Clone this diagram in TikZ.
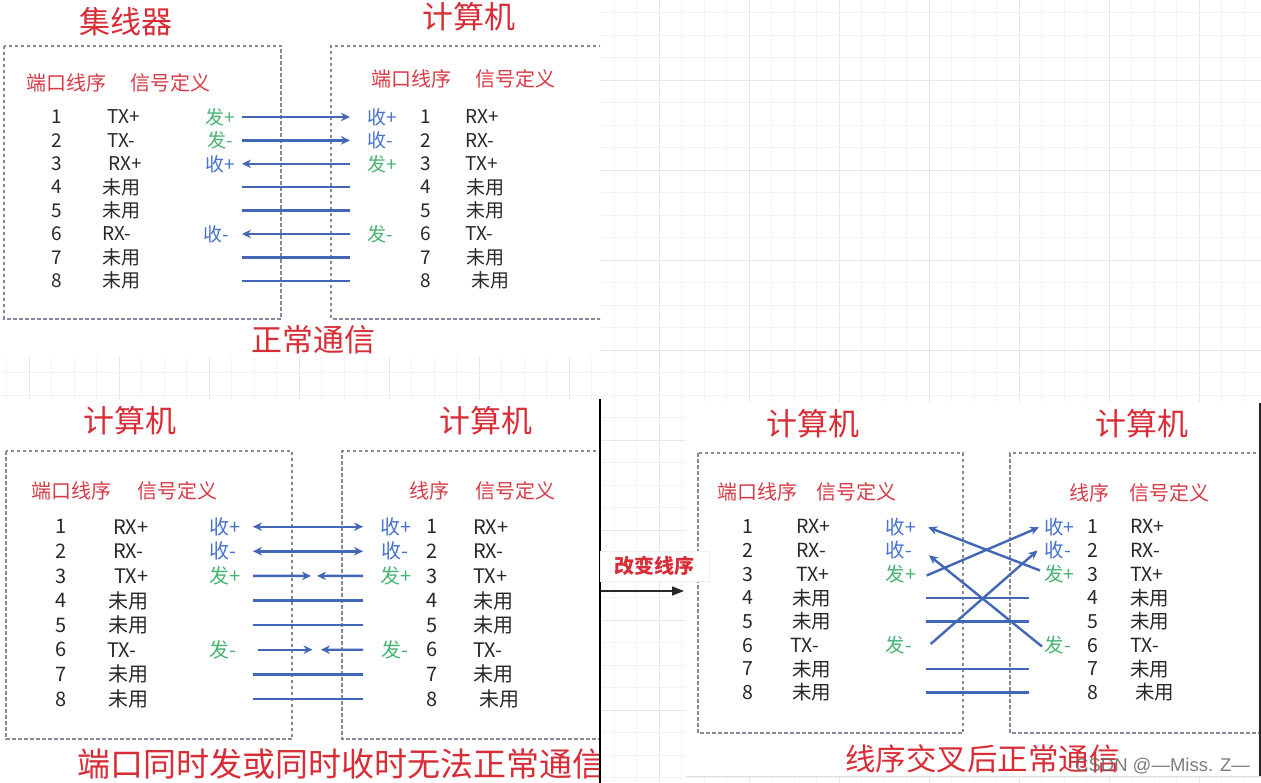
\documentclass[tikz,border=0pt]{standalone}
\usepackage{fontspec}
\setmainfont{Noto Sans CJK SC}
\newfontfamily\wmfont{Liberation Sans}
\usetikzlibrary{arrows.meta}
\definecolor{tred}{RGB}{216,45,55}
\definecolor{hred}{RGB}{214,60,70}
\definecolor{tblue}{RGB}{70,115,205}
\definecolor{tgreen}{RGB}{70,180,115}
\definecolor{tline}{RGB}{66,103,182}
\definecolor{tdash}{RGB}{135,135,160}
\definecolor{tblack}{RGB}{40,40,40}
\definecolor{gminorc}{RGB}{243,243,243}
\definecolor{gmajorc}{RGB}{231,231,231}
\begin{document}
\begin{tikzpicture}[x=1pt,y=-1pt,>={Stealth[length=9pt,width=8.5pt]},
  gminor/.style={draw=gminorc,line width=1pt},
  gmajor/.style={draw=gmajorc,line width=1.2pt},
  box/.style={draw=tdash,line width=1.3pt,dash pattern=on 3.5pt off 2.5pt},
  wire/.style={draw=tline,line width=2.4pt},
  ttl/.style={inner sep=0pt,text=tred,font=\fontsize{31}{31}\selectfont},
  hdr/.style={inner sep=0pt,text=hred,font=\fontsize{20}{20}\selectfont},
  txt/.style={inner sep=0pt,text=tblack,font=\fontsize{#1}{#1}\selectfont},
  sig/.style={txt=#1,anchor=west},
  rcv/.style={inner sep=0pt,text=tblue,font=\fontsize{#1}{#1}\selectfont},
  snd/.style={inner sep=0pt,text=tgreen,font=\fontsize{#1}{#1}\selectfont},
  big/.style={inner sep=0pt,text=tred,font=\fontsize{#1}{#1}\selectfont},
  panel/.style={fill=white,draw=none}
]
\useasboundingbox (0,0) rectangle (1261,783);
\fill[white] (0,0) rectangle (1261,783);
% background grid
\foreach \x in {6.9,29.4,...,1261} \draw[gminor] (\x,0) -- (\x,783);
\foreach \y in {12.7,35.2,...,783} \draw[gminor] (0,\y) -- (1261,\y);
\foreach \x in {29.4,119.4,...,1261} \draw[gmajor] (\x,0) -- (\x,783);
\foreach \y in {80.3,170.3,...,783} \draw[gmajor] (0,\y) -- (1261,\y);

% ================= top-left panel =================
\begin{scope}
\clip (0,0) rectangle (600,357);
\fill[panel] (0,0) rectangle (600,357);
\node[ttl] (tl-t1) at (126,22) {集线器};
\node[ttl] (tl-t2) at (469,17) {计算机};
\draw[box] (4,46) rectangle (281,319);
\draw[box] (602,46) -- (331,46) -- (331,319) -- (602,319);
\node[hdr] (tl-h1) at (66,83) {端口线序};
\node[hdr] (tl-h2) at (170,83) {信号定义};
\node[hdr] (tl-h3) at (411,79) {端口线序};
\node[hdr] (tl-h4) at (515,79) {信号定义};
\foreach \i/\ls/\lx/\rs/\rx in {1/TX+/107/RX+/465,2/TX-/107/RX-/465,3/RX+/108/TX+/465,4/未用/102/未用/466,5/未用/102/未用/466,6/RX-/102/TX-/465,7/未用/102/未用/466,8/未用/102/未用/471}{
  \pgfmathsetmacro\yy{117+23.4*(\i-1)}
  \node[txt=19] (tl-ln\i) at (57,\yy) {\i};
  \node[sig=19] (tl-ls\i) at (\lx,\yy) {\ls};
  \node[txt=19] (tl-rn\i) at (426,\yy) {\i};
  \node[sig=19] (tl-rs\i) at (\rx,\yy) {\rs};
  \coordinate (tl-a\i) at (242,\yy);
  \coordinate (tl-b\i) at (350,\yy);
}
\node[snd=19] (tl-lc1) at (220,117) {发+};
\node[snd=19] (tl-lc2) at (220,140.4) {发-};
\node[rcv=19] (tl-lc3) at (220,163.8) {收+};
\node[rcv=19] (tl-lc6) at (216,234) {收-};
\node[rcv=19] (tl-rc1) at (382,117) {收+};
\node[rcv=19] (tl-rc2) at (380,140.4) {收-};
\node[snd=19] (tl-rc3) at (382,163.8) {发+};
\node[snd=19] (tl-rc6) at (380,234) {发-};
\draw[wire,->] (tl-a1) -- (tl-b1);
\draw[wire,->] (tl-a2) -- (tl-b2);
\draw[wire,<-] (tl-a3) -- (tl-b3);
\draw[wire] (tl-a4) -- (tl-b4);
\draw[wire] (tl-a5) -- (tl-b5);
\draw[wire,<-] (tl-a6) -- (tl-b6);
\draw[wire] (tl-a7) -- (tl-b7);
\draw[wire] (tl-a8) -- (tl-b8);
\node[big=31] (tl-cap) at (313,340) {正常通信};
\end{scope}

% ================= bottom-left panel =================
\begin{scope}
\clip (0,399) rectangle (600,783);
\fill[panel] (0,399) rectangle (600,783);
\node[ttl] (bl-t1) at (130,421) {计算机};
\node[ttl] (bl-t2) at (486,421) {计算机};
\draw[box] (6,451) rectangle (292,739);
\draw[box] (602,451) -- (342,451) -- (342,739) -- (602,739);
\node[hdr] (bl-h1) at (71,491) {端口线序};
\node[hdr] (bl-h2) at (177,491) {信号定义};
\node[hdr] (bl-h3) at (429,491) {线序};
\node[hdr] (bl-h4) at (515,491) {信号定义};
\foreach \i/\ls/\lx/\rs/\rx in {1/RX+/113/RX+/473,2/RX-/113/RX-/473,3/TX+/114/TX+/473,4/未用/108/未用/473,5/未用/108/未用/473,6/TX-/107/TX-/473,7/未用/108/未用/473,8/未用/108/未用/479}{
  \pgfmathsetmacro\yy{526.7+24.6*(\i-1)}
  \node[txt=20] (bl-ln\i) at (61,\yy) {\i};
  \node[sig=20] (bl-ls\i) at (\lx,\yy) {\ls};
  \node[txt=20] (bl-rn\i) at (432,\yy) {\i};
  \node[sig=20] (bl-rs\i) at (\rx,\yy) {\rs};
  \coordinate (bl-a\i) at (253,\yy);
  \coordinate (bl-b\i) at (363,\yy);
}
\coordinate (bl-m3) at (311,575.9);
\coordinate (bl-n3) at (317,575.9);
\coordinate (bl-s6) at (258,649.7);
\coordinate (bl-m6) at (312.5,649.7);
\coordinate (bl-n6) at (321,649.7);
\node[rcv=20] (bl-lc1) at (225,526.7) {收+};
\node[rcv=20] (bl-lc2) at (223,551.3) {收-};
\node[snd=20] (bl-lc3) at (225,575.9) {发+};
\node[snd=20] (bl-lc6) at (223,649.7) {发-};
\node[rcv=20] (bl-rc1) at (396,526.7) {收+};
\node[rcv=20] (bl-rc2) at (395,551.3) {收-};
\node[snd=20] (bl-rc3) at (396,575.9) {发+};
\node[snd=20] (bl-rc6) at (395,649.7) {发-};
\draw[wire,<->] (bl-a1) -- (bl-b1);
\draw[wire,<->] (bl-a2) -- (bl-b2);
\draw[wire,->] (bl-a3) -- (bl-m3);
\draw[wire,->] (bl-b3) -- (bl-n3);
\draw[wire] (bl-a4) -- (bl-b4);
\draw[wire] (bl-a5) -- (bl-b5);
\draw[wire,->] (bl-s6) -- (bl-m6);
\draw[wire,->] (bl-b6) -- (bl-n6);
\draw[wire] (bl-a7) -- (bl-b7);
\draw[wire] (bl-a8) -- (bl-b8);
\node[big=33,anchor=west] (bl-cap) at (77,764) {端口同时发或同时收时无法正常通信};
\end{scope}
\draw[black,line width=1.2pt] (600,399) -- (600,783);

% ================= bottom-right panel =================
\begin{scope}
\clip (686,402) rectangle (1261,777);
\fill[panel] (686,402) rectangle (1261,777);
\node[ttl] (br-t1) at (813,424) {计算机};
\node[ttl] (br-t2) at (1142,424) {计算机};
\draw[box] (698,453) rectangle (963,733);
\draw[box] (1262,453) -- (1010,453) -- (1010,733) -- (1262,733);
\node[hdr] (br-h1) at (757.5,492) {端口线序};
\node[hdr] (br-h2) at (856,492) {信号定义};
\node[hdr] (br-h3) at (1089,493) {线序};
\node[hdr] (br-h4) at (1169,493) {信号定义};
\foreach \i/\ls/\lx/\rs/\rx in {1/RX+/796/RX+/1130,2/RX-/796/RX-/1130,3/TX+/796/TX+/1130,4/未用/792/未用/1130,5/未用/792/未用/1130,6/TX-/790.5/TX-/1130,7/未用/792/未用/1130,8/未用/792/未用/1135}{
  \pgfmathsetmacro\yy{526.7+23.7*(\i-1)}
  \node[txt=19.5] (br-ln\i) at (748.4,\yy) {\i};
  \node[sig=19.5] (br-ls\i) at (\lx,\yy) {\ls};
  \node[txt=19.5] (br-rn\i) at (1092.4,\yy) {\i};
  \node[sig=19.5] (br-rs\i) at (\rx,\yy) {\rs};
  \coordinate (br-a\i) at (925.5,\yy);
  \coordinate (br-b\i) at (1028.7,\yy);
}
\node[rcv=19.5] (br-lc1) at (901,526.7) {收+};
\node[rcv=19.5] (br-lc2) at (899,550.4) {收-};
\node[snd=19.5] (br-lc3) at (901,574.1) {发+};
\node[snd=19.5] (br-lc6) at (899,645.2) {发-};
\node[rcv=19.5] (br-rc1) at (1059.5,526.7) {收+};
\node[rcv=19.5] (br-rc2) at (1058,550.4) {收-};
\node[snd=19.5] (br-rc3) at (1059.5,574.1) {发+};
\node[snd=19.5] (br-rc6) at (1058,645.2) {发-};
\coordinate (br-p1) at (926.7,575.5);
\coordinate (br-q1) at (1039,527.3);
\coordinate (br-p2) at (930.7,644);
\coordinate (br-q2) at (1037.5,550.5);
\coordinate (br-p3) at (1040,570.5);
\coordinate (br-q3) at (928.3,527.3);
\coordinate (br-p4) at (1042,646.5);
\coordinate (br-q4) at (929,555.3);
\draw[wire] (br-a4) -- (br-b4);
\draw[wire] (br-a5) -- (br-b5);
\draw[wire] (br-a7) -- (br-b7);
\draw[wire] (br-a8) -- (br-b8);
\draw[wire,->] (br-p1) -- (br-q1);
\draw[wire,->] (br-p2) -- (br-q2);
\draw[wire,->] (br-p3) -- (br-q3);
\draw[wire,->] (br-p4) -- (br-q4);
\node[big=30.5] (br-cap) at (982.6,759) {线序交叉后正常通信};
\end{scope}
\draw[black!85,line width=1.2pt] (1260,403) -- (1260,777);
\draw[black!12,line width=1pt] (686,776.5) -- (1261,776.5);

% ================= change label and arrow =================
\node[fill=white,draw=black!6,line width=0.8pt,minimum width=109pt,minimum height=30pt,inner sep=0pt,
      text=tred,font=\fontsize{20}{20}\selectfont\bfseries] (chg) at (654.5,566) {改变线序};
\coordinate (chg-s) at (600.5,591);
\coordinate (chg-e) at (684,591);
\draw[black!85,line width=1.6pt,-{Triangle[length=12pt,width=9pt]}] (chg-s) -- (chg-e);

% watermark
\node[anchor=west,inner sep=0pt,text=black!60,opacity=0.85,font=\wmfont\fontsize{18.5}{18.5}\selectfont] (wm) at (1075,766.5) {CSDN @—Miss. Z—};
\end{tikzpicture}
\end{document}
